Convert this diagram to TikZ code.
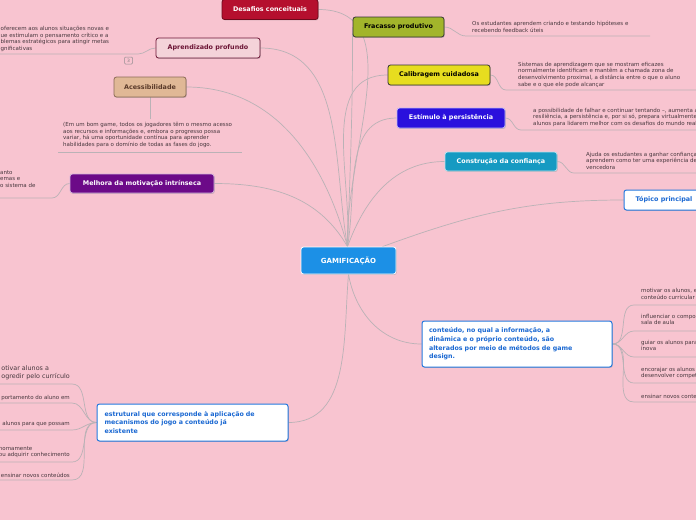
\documentclass[tikz,border=0pt]{standalone}
\usepackage{fontspec}
\setmainfont{DejaVu Sans}
\usetikzlibrary{calc,shadows}
\definecolor{bgpink}{RGB}{248,196,208}
\definecolor{lnk}{RGB}{186,178,182}
\definecolor{leaf}{RGB}{72,56,62}
\definecolor{gblue}{RGB}{28,144,230}
\definecolor{dred}{RGB}{181,15,46}
\definecolor{maroon}{RGB}{107,21,53}
\definecolor{aplight}{RGB}{244,211,217}
\definecolor{tan}{RGB}{224,184,150}
\definecolor{tanb}{RGB}{138,106,85}
\definecolor{tant}{RGB}{90,58,42}
\definecolor{purp}{RGB}{108,10,136}
\definecolor{olive}{RGB}{162,181,43}
\definecolor{yel}{RGB}{231,221,31}
\definecolor{vblue}{RGB}{42,16,221}
\definecolor{teal}{RGB}{22,154,194}
\definecolor{tblue}{RGB}{36,120,222}
\definecolor{ttext}{RGB}{26,104,210}
\pgfdeclarelayer{bg}
\pgfsetlayers{bg,main}
\tikzset{
  topic/.style={rounded corners=2.5pt, font=\fontsize{6.4}{8}\selectfont\bfseries, inner sep=0pt, align=center,
    line width=0.8pt, drop shadow={shadow xshift=0.8pt, shadow yshift=-0.9pt, opacity=0.35}},
  bluebox/.style={topic, fill=white, draw=tblue, text=ttext, line width=1pt},
  leaftext/.style={font=\fontsize{5.5}{6.6}\selectfont, text=leaf, align=left, anchor=north west, inner sep=0pt},
  link/.style={draw=lnk, line width=0.7pt},
}
\begin{document}
\begin{tikzpicture}[x=1pt,y=-1pt]
\useasboundingbox (0,0) rectangle (696,520);
% nodes
\node[topic, fill=gblue, draw=white, text=white, minimum width=95pt, minimum height=27pt, font=\fontsize{7}{8}\selectfont\bfseries] (c) at (348.5,260.5) {GAMIFICAÇÃO};
\node[topic, fill=dred, draw=dred!60!black, text=white, minimum width=96pt, minimum height=20pt] (d) at (270,9.5) {Desafios conceituais};
\node[topic, fill=aplight, draw=maroon, text=maroon, minimum width=104pt, minimum height=20pt] (ap) at (208,48) {Aprendizado profundo};
\node[topic, fill=tan, draw=tanb, text=tant, minimum width=72pt, minimum height=20pt] (ac) at (150,87) {Acessibilidade};
\node[topic, fill=purp, draw=white!70!purp, text=white, minimum width=144pt, minimum height=19pt] (me) at (142,183.5) {Melhora da motivação intrínseca};
\node[topic, fill=olive, draw=black!80, text=black, minimum width=91pt, minimum height=20pt] (fr) at (398.5,27) {Fracasso produtivo};
\node[topic, fill=yel, draw=black!80, text=black, minimum width=102pt, minimum height=20pt] (ca) at (439,75) {Calibragem cuidadosa};
\node[topic, fill=vblue, draw=white!70!vblue, text=white, minimum width=108pt, minimum height=20pt] (es) at (451,118) {Estímulo à persistência};
\node[topic, fill=teal, draw=white!70!teal, text=white, minimum width=112pt, minimum height=19pt] (cf) at (501,161.5) {Construção da confiança};
\node[bluebox, minimum width=80pt, minimum height=20pt] (tp) at (664,200) {Tópico principal};
\node[bluebox, minimum width=190pt, minimum height=46pt, align=left, text width=176pt, font=\fontsize{6.3}{8.6}\selectfont\bfseries] (co) at (517,344)
  {conteúdo, no qual a informação, a\\dinâmica e o próprio conteúdo, são\\alterados por meio de métodos de game\\design.};
\node[bluebox, minimum width=191pt, minimum height=37pt, align=left, text width=176pt, font=\fontsize{6.3}{8.4}\selectfont\bfseries] (st) at (192.5,422.5)
  {estrutural que corresponde à aplicação de\\mecanismos do jogo a conteúdo já\\existente};
% leaf texts
\node[leaftext] (tlt) at (0.5,26) {oferecem aos alunos situações novas e\\ue estimulam o pensamento crítico e a\\blemas estratégicos para atingir metas\\gnificativas};
\node[leaftext] (lmt) at (0,170) {anto\\emas e\\o sistema de};
\node[leaftext] (act) at (63,122) {(Em um bom game, todos os jogadores têm o mesmo acesso\\aos recursos e informações e, embora o progresso possa\\variar, há uma oportunidade contínua para aprender\\habilidades para o domínio de todas as fases do jogo.};
\node[leaftext] (frt) at (472,21) {Os estudantes aprendem criando e testando hipóteses e\\recebendo feedback úteis};
\node[leaftext] (cat) at (518,62) {Sistemas de aprendizagem que se mostram eficazes\\normalmente identificam e mantêm a chamada zona de\\desenvolvimento proximal, a distância entre o que o aluno\\sabe e o que ele pode alcançar};
\node[leaftext] (est) at (533,108) {a possibilidade de falhar e continuar tentando –, aumenta a\\resiliência, a persistência e, por si só, prepara virtualmente os\\alunos para lidarem melhor com os desafios do mundo real};
\node[leaftext] (cft) at (586,152) {Ajuda os estudantes a ganhar confiança\\aprendem como ter uma experiência de\\vencedora};
% right list
\node[leaftext] (r1) at (641,288.5) {motivar os alunos, e\\conteúdo curricular};
\node[leaftext] (r2) at (641,314) {influenciar o compor\\sala de aula};
\node[leaftext] (r3) at (641,340) {guiar os alunos para\\inova};
\node[leaftext] (r4) at (641,367) {encorajar os alunos a\\desenvolver compet};
\node[leaftext] (r5) at (641,394) {ensinar novos conte};
% left list
\node[leaftext, anchor=north east, font=\fontsize{6.4}{8}\selectfont] (l1) at (70,365.5) {otivar alunos a\\ogredir pelo currículo};
\node[leaftext, anchor=north east] (l2) at (70,395) {portamento do aluno em};
\node[leaftext, anchor=north east] (l3) at (70,421) {alunos para que possam};
\node[leaftext, anchor=north east] (l4) at (70,446) {nomamente\\ou adquirir conhecimento};
\node[leaftext, anchor=north east] (l5) at (70,473) {ensinar novos conteúdos};
% collapse indicator
\node[draw=lnk!80!black, rounded corners=1pt, line width=0.5pt, minimum width=8pt, minimum height=7pt, inner sep=0pt, text=lnk!70!black, font=\fontsize{4.5}{5}\selectfont] (n3) at (128.5,60.5) {3};
% coordinates
\coordinate (cn) at ($(c.north)+(-1,0)$);
\coordinate (cne) at ($(c.north)+(34,0)$);
\coordinate (cs) at (c.south);
\coordinate (a1) at (138,54);   \coordinate (a2) at (0,54);
\coordinate (m1) at (52,198);   \coordinate (m2) at (0,198);
\coordinate (q1) at (150,119);  \coordinate (q2) at (58,152); \coordinate (q3) at (242,152);
\coordinate (f1) at (466,36);   \coordinate (f2) at (650,36);
\coordinate (k1) at (506,90);   \coordinate (k2) at (696,90);
\coordinate (e1) at (521,130);  \coordinate (e2) at (696,130);
\coordinate (g1) at (574,173);  \coordinate (g2) at (696,173);
\coordinate (rr1) at (634,305); \coordinate (rr2) at (634,331); \coordinate (rr3) at (634,357); \coordinate (rr4) at (634,383); \coordinate (rr5) at (634,402);
\coordinate (rend1) at (696,305); \coordinate (rend2) at (696,331); \coordinate (rend3) at (696,357); \coordinate (rend4) at (696,383); \coordinate (rend5) at (696,402);
\coordinate (ll1) at (72,384); \coordinate (ll2) at (72,403); \coordinate (ll3) at (72,430); \coordinate (ll4) at (72,462); \coordinate (ll5) at (72,480);
\coordinate (lend1) at (0,384); \coordinate (lend2) at (0,403); \coordinate (lend3) at (0,430); \coordinate (lend4) at (0,462); \coordinate (lend5) at (0,480);
\begin{pgfonlayer}{bg}
\fill[bgpink] (0,0) rectangle (696,520);
% main connectors
\draw[link] (cn) to[out=92,in=0] (d.east);
\draw[link] (cn) to[out=100,in=0] (ap.east);
\draw[link] (cn) to[out=105,in=0] (ac.east);
\draw[link] (cn) to[out=120,in=0] (me.east);
\draw[link] (cn) to[out=88,in=-90] (fr.west);
\draw[link] (cn) to[out=86,in=180] (ca.west);
\draw[link] (cn) to[out=80,in=180] (es.west);
\draw[link] (cn) to[out=70,in=180] (cf.west);
\draw[link] (cne) to[out=20,in=180] (tp.west);
\draw[link] (cs) to[out=-80,in=180] (co.west);
\draw[link] (cs) to[out=-95,in=0] (st.east);
% leaf connectors
\draw[link] (ap.west) to[out=180,in=0] (a1) -- (a2);
\draw[link] (me.west) to[out=180,in=0] (m1) -- (m2);
\draw[link] (ac.south) -- (q1);
\draw[link] (q2) -- (q3);
\draw[link] (fr.east) to[out=0,in=180] (f1) -- (f2);
\draw[link] (ca.east) to[out=0,in=180] (k1) -- (k2);
\draw[link] (es.east) to[out=0,in=180] (e1) -- (e2);
\draw[link] (cf.east) to[out=0,in=180] (g1) -- (g2);
\foreach \i in {1,...,5} {
  \draw[link] (co.east) to[out=0,in=180] (rr\i) -- (rend\i);
  \draw[link] (st.west) to[out=180,in=0] (ll\i) -- (lend\i);
}
\end{pgfonlayer}
\end{tikzpicture}
\end{document}
